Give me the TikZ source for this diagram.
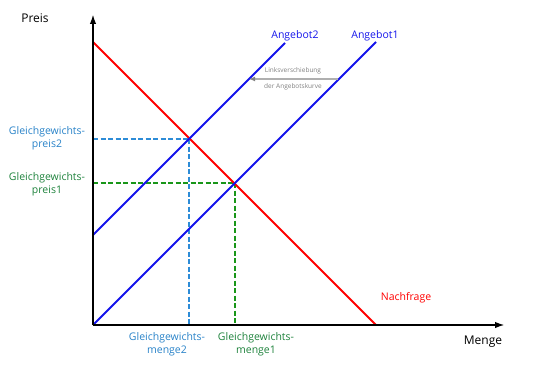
\documentclass[tikz,border=0pt]{standalone}
\usepackage{fontspec}
\setmainfont{Open Sans}
\usetikzlibrary{arrows.meta}
\definecolor{angblue}{RGB}{20,20,235}
\definecolor{eqblue}{RGB}{40,130,200}
\definecolor{eqgreen}{RGB}{30,130,60}
\definecolor{dblue}{RGB}{45,140,215}
\definecolor{dgreen}{RGB}{25,150,25}
\definecolor{shgray}{RGB}{175,175,175}
\tikzset{
  axis/.style={line width=2.2pt,-{Latex[length=10pt,width=6.5pt]}},
  curve/.style={line width=2pt},
  guide/.style={line width=2pt,dash pattern=on 5pt off 2.5pt},
  lbl/.style={font=\fontsize{10.5}{13}\selectfont,inner sep=0pt,align=center},
  big/.style={font=\fontsize{12}{14}\selectfont,inner sep=0pt},
  small/.style={font=\fontsize{6.5}{8}\selectfont,inner sep=0pt,text=gray}
}
\begin{document}
\begin{tikzpicture}[x=1pt,y=-1pt]
\useasboundingbox (0,0) rectangle (549,369);
% points
\coordinate (O) at (93,325);
\coordinate (Ytop) at (93,14);
\coordinate (Xend) at (505,325);
\coordinate (Dtop) at (93,42);
\coordinate (Dbot) at (376,325);
\coordinate (A1top) at (376,42);
\coordinate (A2bot) at (93,235);
\coordinate (A2top) at (285,43);
\coordinate (E1) at (235,183);
\coordinate (E2) at (189,139);
\coordinate (E1y) at (93,183);
\coordinate (E1x) at (235,325);
\coordinate (E2y) at (93,139);
\coordinate (E2x) at (189,325);
\coordinate (Ls) at (338,79);
\coordinate (Le) at (249,79);
% guides
\draw[guide,dgreen] (E1y) -- (E1);
\draw[guide,dgreen] (E1) -- (E1x);
\draw[guide,dblue] (E2y) -- (E2);
\draw[guide,dblue] (E2) -- (E2x);
% curves
\draw[curve,red] (Dtop) -- (Dbot);
\draw[curve,angblue] (O) -- (A1top);
\draw[curve,angblue] (A2bot) -- (A2top);
% axes
\draw[axis] (O) -- (Ytop);
\draw[axis] (O) -- (Xend);
% shift arrow
\draw[shgray,line width=2pt,-{Latex[length=6pt,width=5pt,color=gray]}] (Ls) -- (Le);
\node[small] (sh1) at (293,71) {Linksverschiebung};
\node[small] (sh2) at (293,86.5) {der Angebotskurve};
% labels
\node[big] (preis) at (35,18) {Preis};
\node[big] (menge) at (483,342) {Menge};
\node[lbl,text=red] (nf) at (406,298) {Nachfrage};
\node[lbl,text=angblue] (a1) at (375,36) {Angebot1};
\node[lbl,text=angblue] (a2) at (295,36) {Angebot2};
\node[lbl,text=eqblue] (gp2) at (47,138) {Gleichgewichts-\\preis2};
\node[lbl,text=eqgreen] (gp1) at (47,184) {Gleichgewichts-\\preis1};
\node[lbl,text=eqblue] (gm2) at (167,344) {Gleichgewichts-\\menge2};
\node[lbl,text=eqgreen] (gm1) at (256,344) {Gleichgewichts-\\menge1};
\end{tikzpicture}
\end{document}
